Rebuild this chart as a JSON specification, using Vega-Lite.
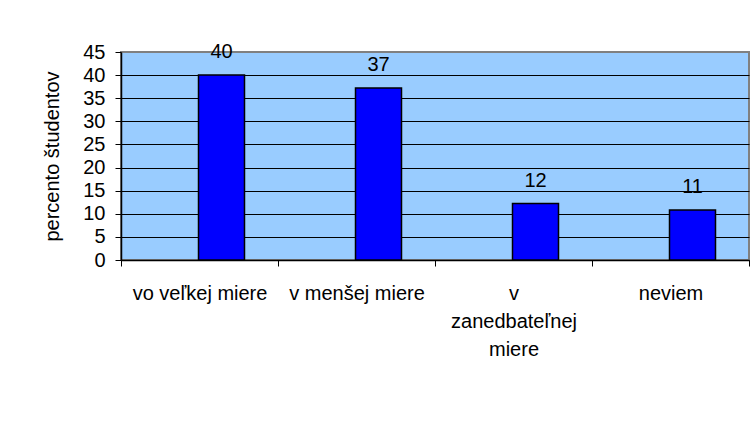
{
  "$schema": "https://vega.github.io/schema/vega-lite/v6.json",
  "width": 628,
  "height": 208,
  "autosize": {"type": "none"},
  "padding": {"left": 121, "top": 52, "right": 5, "bottom": 177},
  "background": "white",
  "config": {
    "font": "Liberation Sans",
    "view": {"fill": "#99CCFF", "stroke": "#808080", "strokeWidth": 2}
  },
  "data": {
    "values": [
      {"odpoved": "vo veľkej miere", "percento": 40},
      {"odpoved": "v menšej miere", "percento": 37.2},
      {"odpoved": "v zanedbateľnej miere", "percento": 12.2},
      {"odpoved": "neviem", "percento": 10.8}
    ]
  },
  "encoding": {
    "x": {
      "field": "odpoved",
      "type": "nominal",
      "sort": null,
      "scale": {"paddingInner": 0, "paddingOuter": 0},
      "axis": {
        "title": null,
        "labelAngle": 0,
        "labelFontSize": 20,
        "labelColor": "black",
        "labelPadding": 17,
        "labelLimit": 0,
        "labelLineHeight": 28,
        "labelExpr": "datum.label == 'v zanedbateľnej miere' ? ['v', 'zanedbateľnej', 'miere'] : datum.label",
        "tickBand": "extent",
        "tickSize": 6,
        "tickColor": "black",
        "domainColor": "black",
        "domainWidth": 1.5
      }
    },
    "y": {
      "field": "percento",
      "type": "quantitative",
      "scale": {"domain": [0, 45], "nice": false},
      "axis": {
        "values": [0, 5, 10, 15, 20, 25, 30, 35, 40, 45],
        "title": "percento študentov",
        "titleFontSize": 20,
        "titleFontWeight": "normal",
        "titleColor": "black",
        "titlePadding": 20,
        "labelFontSize": 20,
        "labelColor": "black",
        "labelPadding": 10,
        "tickSize": 6,
        "tickColor": "black",
        "domainColor": "black",
        "domainWidth": 1.5,
        "gridColor": {"condition": {"test": "datum.value == 45", "value": "#808080"}, "value": "black"},
        "gridOpacity": 1
      }
    }
  },
  "layer": [
    {
      "mark": {"type": "bar", "width": 46, "xOffset": 22, "color": "#0000FF", "stroke": "black", "strokeWidth": 1.5}
    },
    {
      "mark": {"type": "text", "xOffset": 22, "baseline": "alphabetic", "dy": -17, "fontSize": 20, "color": "black"},
      "encoding": {"text": {"field": "percento", "type": "quantitative", "format": ".0f"}}
    }
  ]
}
